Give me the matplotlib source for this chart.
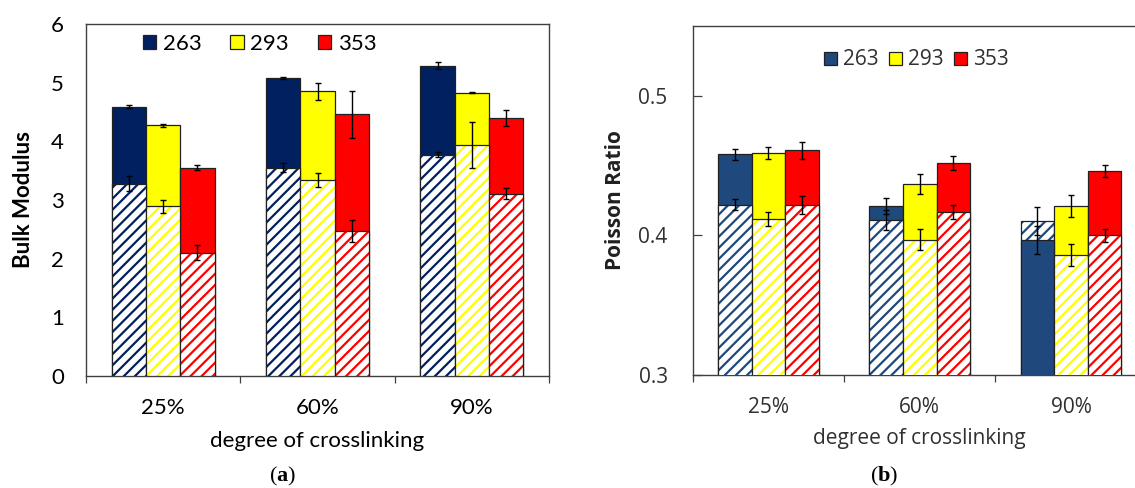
import numpy as np
import matplotlib
matplotlib.use('Agg')
import matplotlib.pyplot as plt
from matplotlib.patches import Patch

# категории и серии
categories = ['25%', '60%', '90%']
series = ['263', '293', '353']

# Bulk modulus: полная величина (сплошной столбец) и часть (штриховка)
bulk_total = {'263': [4.59, 5.08, 5.29], '293': [4.27, 4.85, 4.83], '353': [3.55, 4.46, 4.40]}
bulk_total_err = {'263': [0.03, 0.02, 0.06], '293': [0.02, 0.14, 0.01], '353': [0.04, 0.40, 0.14]}
bulk_part = {'263': [3.28, 3.55, 3.77], '293': [2.89, 3.34, 3.94], '353': [2.10, 2.47, 3.11]}
bulk_part_err = {'263': [0.13, 0.08, 0.04], '293': [0.11, 0.125, 0.39], '353': [0.13, 0.19, 0.09]}

# Poisson ratio
pois_total = {'263': [0.458, 0.421, 0.397], '293': [0.459, 0.437, 0.421], '353': [0.461, 0.452, 0.446]}
pois_total_err = {'263': [0.004, 0.006, 0.010], '293': [0.004, 0.007, 0.008], '353': [0.006, 0.005, 0.0045]}
pois_part = {'263': [0.422, 0.411, 0.410], '293': [0.412, 0.397, 0.386], '353': [0.422, 0.417, 0.400]}
pois_part_err = {'263': [0.004, 0.007, 0.010], '293': [0.005, 0.0076, 0.008], '353': [0.0064, 0.005, 0.0045]}

colors_a = {'263': '#002060', '293': '#FFFF00', '353': '#FF0000'}
colors_b = {'263': '#1F497D', '293': '#FFFF00', '353': '#FF0000'}

fs_a = 16
fs_b = 15

plt.rcParams['hatch.linewidth'] = 1.6
plt.rcParams['mathtext.fontset'] = 'custom'
plt.rcParams['mathtext.rm'] = 'Liberation Serif'
plt.rcParams['mathtext.bf'] = 'Liberation Serif:bold'

fig = plt.figure(figsize=(11.35, 4.88), dpi=100)
ax1 = fig.add_axes([86 / 1135, 1 - 376 / 488, 463 / 1135, 352 / 488])
ax2 = fig.add_axes([692.7 / 1135, 1 - 375 / 488, 454 / 1135, 349 / 488])

x = np.arange(len(categories))
w = 2 / 9


def draw_bars(ax, total, total_err, part, part_err, colors):
    for i, s in enumerate(series):
        xs = x + (i - 1) * w
        for j in range(len(categories)):
            t = total[s][j]
            p = part[s][j]
            # более высокий столбец рисуется первым
            z_solid, z_hatch = (2, 3) if t >= p else (3, 2)
            ax.bar(xs[j], t, w, color=colors[s], edgecolor='#202020', linewidth=0.9, zorder=z_solid)
            ax.bar(xs[j], p, w, facecolor='white', edgecolor=colors[s], hatch='///', linewidth=0, zorder=z_hatch)
            ax.bar(xs[j], p, w, fill=False, edgecolor='#202020', linewidth=0.9, zorder=z_hatch)
        ax.errorbar(xs, total[s], yerr=total_err[s], fmt='none', ecolor='black', elinewidth=1,
                    capsize=2.5, capthick=1, zorder=5)
        ax.errorbar(xs, part[s], yerr=part_err[s], fmt='none', ecolor='black', elinewidth=1,
                    capsize=2.5, capthick=1, zorder=5)


# (a) Bulk modulus
draw_bars(ax1, bulk_total, bulk_total_err, bulk_part, bulk_part_err, colors_a)
ax1.set_xlim(-0.5, 2.5)
ax1.set_ylim(0, 6)
ax1.set_yticks(range(7))
ax1.set_xticks(x)
ax1.set_xticklabels(categories, fontfamily='Lato', fontsize=fs_a)
ax1.set_xticks([-0.5, 0.5, 1.5, 2.5], minor=True)
ax1.tick_params(axis='x', which='major', length=0, pad=16)
ax1.tick_params(axis='x', which='minor', direction='out', length=5, width=0.9, color='#404040')
ax1.tick_params(axis='y', length=0, pad=16, labelsize=fs_a)
for lab in ax1.get_yticklabels():
    lab.set_fontfamily('Lato')
ax1.set_ylabel('Bulk Modulus', fontfamily='Lato', fontweight='bold', fontsize=fs_a, labelpad=12)
ax1.set_xlabel('degree of crosslinking', fontfamily='Lato', fontsize=fs_a, labelpad=9)
for sp in ax1.spines.values():
    sp.set_color('#404040')
    sp.set_linewidth(1.0)
handles_a = [Patch(facecolor=colors_a[s], edgecolor='#202020', linewidth=0.9, label=s) for s in series]
ax1.legend(handles=handles_a, loc='center', bbox_to_anchor=(0.375, 0.944), ncol=3, frameon=False,
           prop={'family': 'Lato', 'size': fs_a}, handlelength=0.6, handleheight=0.6,
           handletextpad=0.3, columnspacing=1.3, borderpad=0)

# (b) Poisson ratio
draw_bars(ax2, pois_total, pois_total_err, pois_part, pois_part_err, colors_b)
ax2.set_xlim(-0.5, 2.5)
ax2.set_ylim(0.3, 0.55)
ax2.set_yticks([0.3, 0.4, 0.5])
ax2.set_yticklabels(['0.3', '0.4', '0.5'], fontfamily='Open Sans', fontsize=fs_b, color='#303030')
ax2.set_xticks(x)
ax2.set_xticklabels(categories, fontfamily='Open Sans', fontsize=fs_b, color='#303030')
ax2.set_xticks([-0.5, 0.5, 1.5, 2.5], minor=True)
ax2.tick_params(axis='x', which='major', length=0, pad=16)
ax2.tick_params(axis='x', which='minor', direction='out', length=5, width=0.9, color='#404040')
ax2.tick_params(axis='y', direction='in', length=6.5, width=0.9, color='#404040', pad=18)
ax2.set_ylabel('Poisson Ratio', fontfamily='Open Sans', fontweight='bold', fontsize=fs_b,
               labelpad=9, color='#202020')
ax2.set_xlabel('degree of crosslinking', fontfamily='Open Sans', fontsize=fs_b, labelpad=7,
               color='#303030')
for sp in ax2.spines.values():
    sp.set_color('#404040')
    sp.set_linewidth(1.0)
handles_b = [Patch(facecolor=colors_b[s], edgecolor='#202020', linewidth=0.9, label=s) for s in series]
ax2.legend(handles=handles_b, loc='center', bbox_to_anchor=(0.493, 0.9026), ncol=3, frameon=False,
           prop={'family': 'Open Sans', 'size': fs_b}, handlelength=0.6, handleheight=0.6,
           handletextpad=0.3, columnspacing=0.5, borderpad=0, labelcolor='#303030')

# подписи панелей
fig.text(283 / 1135, 1 - 476 / 488, r'($\mathbf{a}$)', ha='center', va='center', fontsize=16,
         fontfamily='Liberation Serif')
fig.text(884 / 1135, 1 - 476 / 488, r'($\mathbf{b}$)', ha='center', va='center', fontsize=16,
         fontfamily='Liberation Serif')

fig.savefig('out.png', dpi=100)
